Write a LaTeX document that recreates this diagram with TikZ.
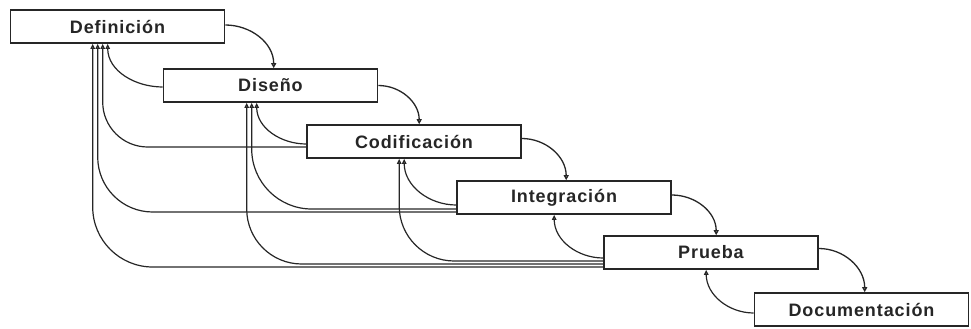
\documentclass[tikz,border=0pt]{standalone}
\usepackage{fontspec}
\setmainfont{Liberation Sans}[LetterSpace=5]
\usetikzlibrary{arrows.meta,calc}
\begin{document}
\begin{tikzpicture}[x=1pt,y=-1pt,
  phase/.style={draw=black!85,line width=1.6pt,fill=white,minimum width=214pt,minimum height=33pt,inner sep=0pt,
    font=\fontsize{18}{20}\selectfont\bfseries,text=black!85},
  fwd/.style={draw=black!85,line width=1.3pt,-{Triangle[open,length=5pt,width=5pt]}},
  back/.style={draw=black!85,line width=1.2pt,-{Triangle[open,length=5pt,width=4.5pt]}}
]
\useasboundingbox (0,0) rectangle (971,329);
\node[phase] (def) at (117.5,26.5) {Definición};
\node[phase] (dis) at (270.5,85.5) {Diseño};
\node[phase] (cod) at (414,141.5) {Codificación};
\node[phase] (int) at (564,197.5) {Integración};
\node[phase] (pru) at (711,252.5) {Prueba};
\node[phase] (doc) at (861.5,309.5) {Documentación};

% forward arrows
\draw[fwd] ($(def.east)+(0,-1.5)$) to[out=0,in=90] ($(dis.north west)+(111,0)$);
\draw[fwd] ($(dis.east)+(0,0)$) to[out=0,in=90] ($(cod.north west)+(113,0)$);
\draw[fwd] ($(cod.east)+(0,-3)$) to[out=0,in=90] ($(int.north west)+(110,0)$);
\draw[fwd] ($(int.east)+(0,-2.5)$) to[out=0,in=90] ($(pru.north west)+(113,0)$);
\draw[fwd] ($(pru.east)+(0,-4)$) to[out=0,in=90] ($(doc.north west)+(111,0)$);

% feedback to Definicion
\draw[back] ($(dis.west)+(0,1.5)$) to[out=180,in=-90] ($(def.south west)+(98,0)$);
\draw[back,rounded corners=45pt] ($(cod.west)+(0,5.5)$) -| ($(def.south west)+(93,0)$);
\draw[back,rounded corners=55pt] ($(int.west)+(0,14.5)$) -| ($(def.south west)+(88,0)$);
\draw[back,rounded corners=60pt] ($(pru.west)+(0,14.5)$) -| ($(def.south west)+(83,0)$);

% feedback to Diseno
\draw[back] ($(cod.west)+(0,2.5)$) to[out=180,in=-90] ($(dis.south west)+(94,0)$);
\draw[back,rounded corners=60pt] ($(int.west)+(0,11.5)$) -| ($(dis.south west)+(89,0)$);
\draw[back,rounded corners=55pt] ($(pru.west)+(0,11.5)$) -| ($(dis.south west)+(84,0)$);

% feedback to Codificacion
\draw[back] ($(int.west)+(0,7.5)$) to[out=180,in=-90] ($(cod.south west)+(98,0)$);
\draw[back,rounded corners=55pt] ($(pru.west)+(0,8.5)$) -| ($(cod.south west)+(93,0)$);

% feedback to Integracion
\draw[back] ($(pru.west)+(0,5.5)$) to[out=180,in=-90] ($(int.south west)+(98,0)$);

% feedback to Prueba
\draw[back] ($(doc.west)+(0,3.5)$) to[out=180,in=-90] ($(pru.south west)+(103,0)$);
\end{tikzpicture}
\end{document}
